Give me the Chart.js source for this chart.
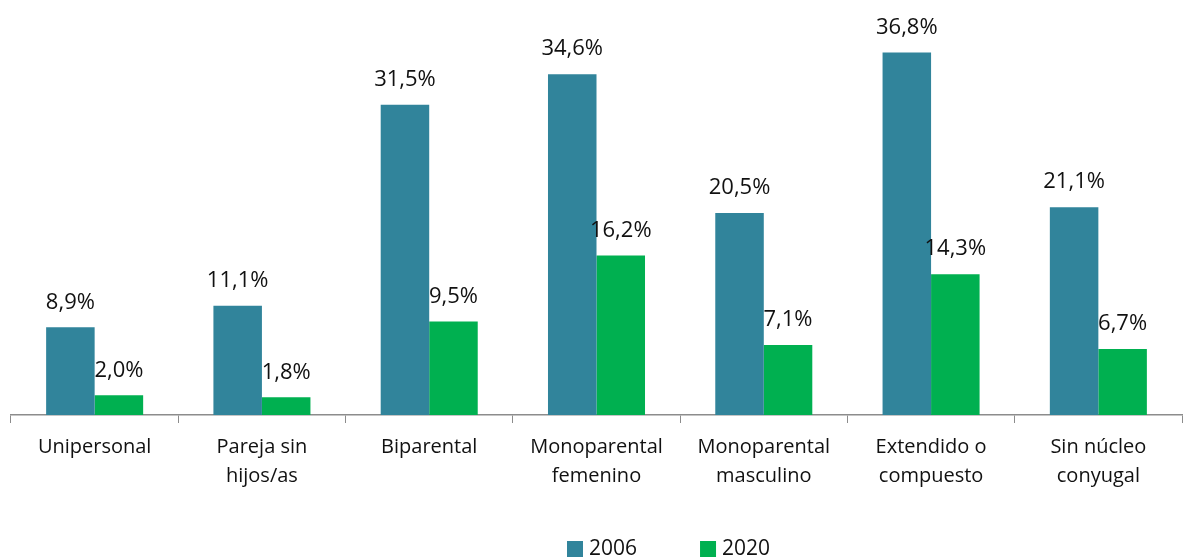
<!DOCTYPE html>
<html>
<head>
<meta charset="utf-8">
<script src="https://cdn.jsdelivr.net/npm/chart.js@4"></script>
<style>
  html, body { margin: 0; padding: 0; background: #fff; }
  #wrap { width: 1195px; height: 559px; }
</style>
</head>
<body>
<div id="wrap"><canvas id="barChart" width="1195" height="559"></canvas></div>
<script>
var categories = [
  ['Unipersonal'],
  ['Pareja sin', 'hijos/as'],
  ['Biparental'],
  ['Monoparental', 'femenino'],
  ['Monoparental', 'masculino'],
  ['Extendido o', 'compuesto'],
  ['Sin núcleo', 'conyugal']
];
var values2006 = [8.9, 11.1, 31.5, 34.6, 20.5, 36.8, 21.1];
var values2020 = [2.0, 1.8, 9.5, 16.2, 7.1, 14.3, 6.7];
var seriesNames = ['2006', '2020'];

var FONT = '"Open Sans", "Noto Sans", sans-serif';

// labels above each bar
var valueLabels = {
  id: 'valueLabels',
  afterDatasetsDraw: function (chart) {
    var ctx = chart.ctx;
    ctx.save();
    ctx.font = '22px ' + FONT;
    ctx.fillStyle = '#111';
    ctx.textAlign = 'center';
    ctx.textBaseline = 'bottom';
    chart.data.datasets.forEach(function (ds, i) {
      chart.getDatasetMeta(i).data.forEach(function (bar, j) {
        var txt = ds.data[j].toFixed(1).replace('.', ',') + '%';
        ctx.fillText(txt, bar.x, bar.y - 14);
      });
    });
    ctx.restore();
  }
};

// legend drawn by hand (the reference sits right of centre, wide gap)
var bottomLegend = {
  id: 'bottomLegend',
  afterDraw: function (chart) {
    var ctx = chart.ctx;
    ctx.save();
    ctx.font = '21px ' + FONT;
    ctx.textBaseline = 'middle';
    ctx.textAlign = 'left';
    var x = 567, y = 549;
    chart.data.datasets.forEach(function (ds) {
      ctx.fillStyle = ds.backgroundColor;
      ctx.fillRect(x, y - 8, 16, 16);
      ctx.fillStyle = '#111';
      ctx.fillText(ds.label, x + 22, y);
      x += 22 + ctx.measureText(ds.label).width + 63;
    });
    ctx.restore();
  }
};

var ctx = document.getElementById('barChart').getContext('2d');
var myChart = new Chart(ctx, {
  type: 'bar',
  data: {
    labels: categories,
    datasets: [{
      label: seriesNames[0],
      data: values2006,
      backgroundColor: '#31849B',
      categoryPercentage: 0.58,
      barPercentage: 1.0
    }, {
      label: seriesNames[1],
      data: values2020,
      backgroundColor: '#00B050',
      categoryPercentage: 0.58,
      barPercentage: 1.0
    }]
  },
  options: {
    responsive: false,
    animation: false,
    layout: { padding: { top: 21, left: 11, right: 13, bottom: 58 } },
    plugins: {
      tooltip: { enabled: false },
      legend: { display: false }
    },
    scales: {
      y: {
        display: false,
        min: 0,
        max: 40
      },
      x: {
        grid: {
          offset: true,
          drawOnChartArea: false,
          drawTicks: true,
          tickLength: 8,
          color: '#8c8c8c'
        },
        border: { color: '#8c8c8c', width: 1.5 },
        ticks: {
          font: { family: FONT, size: 20, lineHeight: 1.45 },
          color: '#111',
          padding: 10,
          maxRotation: 0
        }
      }
    }
  },
  plugins: [valueLabels, bottomLegend]
});
</script>
</body>
</html>
